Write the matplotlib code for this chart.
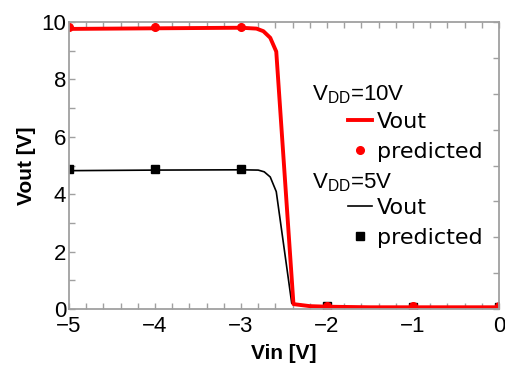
import matplotlib
matplotlib.use("Agg")
import matplotlib.pyplot as plt
from matplotlib.lines import Line2D
from matplotlib.ticker import MultipleLocator

plt.rcParams['font.family'] = ['Liberation Sans', 'DejaVu Sans']
plt.rcParams['mathtext.fontset'] = 'custom'
plt.rcParams['mathtext.rm'] = 'Liberation Sans'

# measured transfer curves (Vin, Vout)
vin_10 = [-5.0, -4.95, -4.0, -3.0, -2.82, -2.74, -2.66, -2.59, -2.39, -2.2, -2.0, -1.5, -1.0, 0.0]
vout_10 = [9.84, 9.76, 9.78, 9.80, 9.77, 9.68, 9.45, 8.97, 0.17, 0.10, 0.08, 0.06, 0.06, 0.06]
vin_5 = [-5.0, -4.0, -3.0, -2.80, -2.73, -2.66, -2.59, -2.41, -2.2, -2.0, -1.0, 0.0]
vout_5 = [4.82, 4.84, 4.85, 4.84, 4.78, 4.60, 4.09, 0.20, 0.10, 0.08, 0.06, 0.05]

# predicted points
vin_pred = [-5, -4, -3, -2, -1, 0]
pred_10 = [9.82, 9.82, 9.82, 0.12, 0.10, 0.10]
pred_5 = [4.87, 4.87, 4.87, 0.10, 0.08, 0.08]

grey = '#a0a0a0'

fig = plt.figure(figsize=(5.06, 3.67), dpi=100)
ax = fig.add_axes([69/506, 58/367, 430/506, 287/367])

ax.plot(vin_5, vout_5, color='black', lw=1.2)
ax.plot(vin_pred, pred_5, ls='none', marker='s', ms=6, color='black')
ax.plot(vin_10, vout_10, color='red', lw=2.8)
ax.plot(vin_pred, pred_10, ls='none', marker='o', ms=5.5, color='red')

ax.set_xlim(-5, 0)
ax.set_ylim(0, 10)
ax.set_xticks([-5, -4, -3, -2, -1, 0])
ax.set_xticklabels(['\u22125', '\u22124', '\u22123', '\u22122', '\u22121', '0'])
ax.xaxis.set_minor_locator(MultipleLocator(0.2))
ax.yaxis.set_major_locator(MultipleLocator(2))
ax.yaxis.set_minor_locator(MultipleLocator(1))
ax.tick_params(which='both', direction='in', length=4.5, width=1, color=grey,
               top=True, labelsize=16, pad=5)
ax.tick_params(axis='y', which='both', right=False, pad=2)
for s in ax.spines.values():
    s.set_color(grey)
    s.set_linewidth(1.3)

# right-hand ticks (secondary scale)
ax2 = ax.twinx()
ax2.set_ylim(0, 8)
ax2.yaxis.set_major_locator(MultipleLocator(1))
ax2.tick_params(direction='in', length=4.5, width=1, color=grey, labelright=False)
for s in ax2.spines.values():
    s.set_visible(False)

ax.set_xlabel('Vin [V]', fontsize=15, fontweight='bold', labelpad=5)
ax.set_ylabel('Vout [V]', fontsize=15, fontweight='bold', labelpad=4)

# legend groups
ax2.text(0.565, 0.728, 'V$_{\\mathrm{DD}}$=10V', transform=ax.transAxes, fontsize=16,
         va='baseline', ha='left')
ax2.text(0.565, 0.4216, 'V$_{\\mathrm{DD}}$=5V', transform=ax.transAxes, fontsize=16,
         va='baseline', ha='left')

leg_kw = dict(loc='upper left', bbox_transform=ax.transAxes, frameon=False,
              prop={'family': 'DejaVu Sans', 'size': 16}, borderpad=0,
              borderaxespad=0, handlelength=1.08, handletextpad=0.22,
              labelspacing=0.45)
h10 = [Line2D([], [], color='red', lw=2.8),
       Line2D([], [], ls='none', marker='o', ms=5.5, color='red')]
h5 = [Line2D([], [], color='black', lw=1.2),
      Line2D([], [], ls='none', marker='s', ms=6, color='black')]
leg1 = ax2.legend(h10, ['Vout', 'predicted'], bbox_to_anchor=(0.649, 0.688), **leg_kw)
ax2.add_artist(leg1)
ax2.legend(h5, ['Vout', 'predicted'], bbox_to_anchor=(0.649, 0.386), **leg_kw)

fig.savefig('out.png', dpi=100)
